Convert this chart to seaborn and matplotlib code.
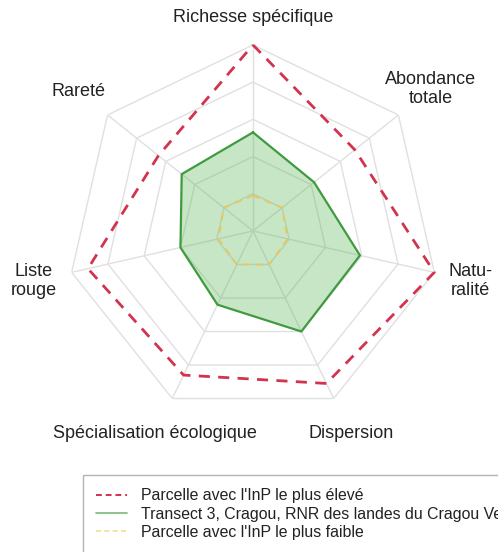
import numpy as np
import pandas as pd
import matplotlib
matplotlib.use("Agg")
import matplotlib.pyplot as plt
from matplotlib.lines import Line2D
import seaborn as sns

# Axes of the radar chart, clockwise from the top
axes_labels = ["Richesse spécifique", "Abondance\ntotale", "Natu-\nralité",
               "Dispersion", "Spécialisation écologique", "Liste\nrouge", "Rareté"]

# Normalised indicator values (0 - 1)
max_plot = [1.00, 0.70, 1.00, 0.91, 0.86, 0.91, 0.65]
transect = [0.53, 0.42, 0.59, 0.60, 0.44, 0.40, 0.49]
min_plot = [0.19, 0.20, 0.19, 0.20, 0.20, 0.19, 0.20]

series_labels = ["Parcelle avec l'InP le plus élevé",
                 "Transect 3, Cragou, RNR des landes du Cragou Vergam",
                 "Parcelle avec l'InP le plus faible"]
ring_levels = [0.2, 0.4, 0.6, 0.8, 1.0]

sns.set_theme(style="white")
plt.rcParams["font.family"] = ["Liberation Sans", "DejaVu Sans"]

n = len(axes_labels)
theta = np.arange(n) * 2 * np.pi / n
theta_closed = np.append(theta, theta[0])


def closed(values):
    return np.append(values, values[0])


fig = plt.figure(figsize=(4.98, 5.52), dpi=100)
ax = fig.add_axes([0.1345, 0.2446, 0.747, 0.674], projection="polar")
ax.set_theta_offset(np.pi / 2)
ax.set_theta_direction(-1)
ax.set_ylim(0, 1.0)
ax.grid(False)
ax.spines["polar"].set_visible(False)
ax.set_xticks([])
ax.set_yticks([])
ax.set_facecolor("none")

grid_color = "#e0e0e0"
for lvl in ring_levels:
    ax.plot(theta_closed, [lvl] * (n + 1), color=grid_color, lw=1.0, zorder=1)
for t in theta:
    ax.plot([t, t], [0, 1.0], color=grid_color, lw=1.0, zorder=1)

df = pd.DataFrame({
    "theta": np.concatenate([theta_closed] * 3),
    "r": np.concatenate([closed(max_plot), closed(transect), closed(min_plot)]),
    "serie": np.repeat(series_labels, n + 1),
})

red = "#d2334e"
green = "#3f9b3f"
yellow = "#f0c552"

sub = df[df.serie == series_labels[1]]
ax.fill(sub.theta, sub.r, color="#5cb85c", alpha=0.35, zorder=2, lw=0)
sns.lineplot(data=sub, x="theta", y="r", sort=False, estimator=None, ax=ax,
             color=green, lw=1.6, zorder=4, legend=False)

sub = df[df.serie == series_labels[2]]
sns.lineplot(data=sub, x="theta", y="r", sort=False, estimator=None, ax=ax,
             color=yellow, lw=1.3, linestyle=(0, (4, 3)), alpha=0.9, zorder=3,
             legend=False)

sub = df[df.serie == series_labels[0]]
sns.lineplot(data=sub, x="theta", y="r", sort=False, estimator=None, ax=ax,
             color=red, lw=2.0, linestyle=(0, (4, 3)), zorder=5, legend=False,
             clip_on=False)

ax.set_xlabel("")
ax.set_ylabel("")

label_r = [1.15, 1.22, 1.2, 1.21, 1.21, 1.21, 1.2]
for t, lab, rr in zip(theta, axes_labels, label_r):
    ax.text(t, rr, lab, ha="center", va="center", fontsize=13,
            color="#222222", clip_on=False, linespacing=1.15)

handles = [
    Line2D([], [], color=red, lw=1.4, linestyle=(0, (3, 2))),
    Line2D([], [], color=green, lw=1.2, alpha=0.7),
    Line2D([], [], color=yellow, lw=1.2, linestyle=(0, (3, 2)), alpha=0.6),
]
leg = fig.legend(handles, series_labels, loc="upper left",
                 bbox_to_anchor=(83 / 498, 1 - 475 / 552),
                 fontsize=11.4, frameon=True, fancybox=False,
                 borderpad=0.85, handlelength=1.95, handletextpad=0.85,
                 labelspacing=0.2, borderaxespad=0)
leg.get_frame().set_edgecolor("#a0a0a0")
leg.get_frame().set_linewidth(1.0)
for txt in leg.get_texts():
    txt.set_color("#222222")

fig.savefig("out.png", dpi=100)
